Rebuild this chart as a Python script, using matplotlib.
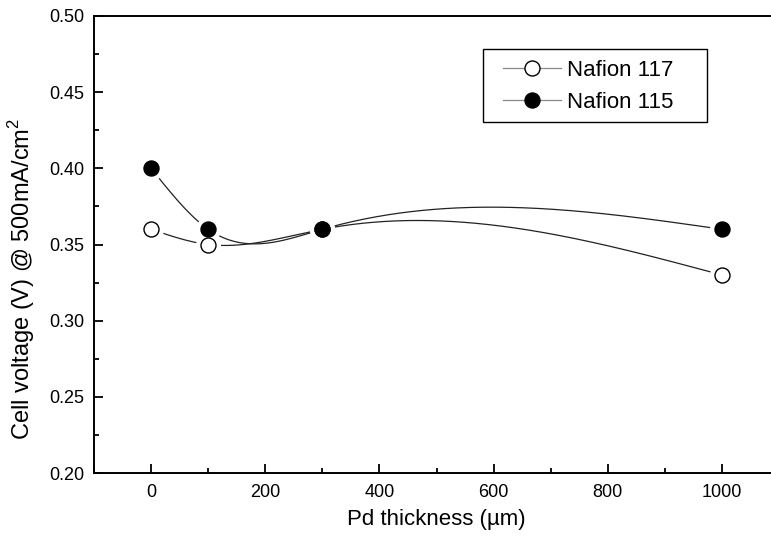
import numpy as np
from matplotlib import pyplot as plt
from matplotlib.ticker import MultipleLocator
from matplotlib.lines import Line2D
from matplotlib.patches import Rectangle

plt.rcParams['font.family'] = ['Liberation Sans', 'DejaVu Sans']
plt.rcParams['mathtext.fontset'] = 'custom'
plt.rcParams['mathtext.rm'] = 'Liberation Sans'

# data
pd_thickness = [0, 100, 300, 1000]
nafion_117 = [0.36, 0.35, 0.36, 0.33]
nafion_115 = [0.40, 0.36, 0.36, 0.36]
labels = ["Nafion 117", "Nafion 115"]


def natural_spline(x, y, n=300):
    # natural cubic spline through the points, like Origin's "spline" connect
    x = np.asarray(x, float)
    y = np.asarray(y, float)
    k = len(x)
    h = np.diff(x)
    A = np.zeros((k, k))
    b = np.zeros(k)
    A[0, 0] = A[-1, -1] = 1.0
    for i in range(1, k - 1):
        A[i, i - 1] = h[i - 1]
        A[i, i] = 2 * (h[i - 1] + h[i])
        A[i, i + 1] = h[i]
        b[i] = 6 * ((y[i + 1] - y[i]) / h[i] - (y[i] - y[i - 1]) / h[i - 1])
    m = np.linalg.solve(A, b)
    xs = np.linspace(x[0], x[-1], n)
    idx = np.clip(np.searchsorted(x, xs) - 1, 0, k - 2)
    x0, x1 = x[idx], x[idx + 1]
    hi = x1 - x0
    ys = (m[idx] * (x1 - xs) ** 3 / (6 * hi) + m[idx + 1] * (xs - x0) ** 3 / (6 * hi)
          + (y[idx] / hi - m[idx] * hi / 6) * (x1 - xs)
          + (y[idx + 1] / hi - m[idx + 1] * hi / 6) * (xs - x0))
    return xs, ys


W, H = 771, 537
fig = plt.figure(figsize=(W / 100, H / 100), dpi=100)
ax = fig.add_axes([94 / W, (H - 473) / H, (779 - 94) / W, (473 - 16) / H])

line_col = '#222222'
for yv in (nafion_117, nafion_115):
    xs, ys = natural_spline(pd_thickness, yv)
    ax.plot(xs, ys, color=line_col, lw=0.9, zorder=2)
for yv in (nafion_117, nafion_115):
    ax.plot(pd_thickness, yv, 'o', ms=17, color='white', mec='white', zorder=3)
ax.plot(pd_thickness, nafion_117, 'o', ms=10.8, mfc='white', mec='black', mew=1.0, zorder=4)
ax.plot(pd_thickness, nafion_115, 'o', ms=10.8, mfc='black', mec='black', mew=1.0, zorder=4)

ax.set_xlim(-100, 1100)
ax.set_ylim(0.20, 0.50)
ax.xaxis.set_major_locator(MultipleLocator(200))
ax.xaxis.set_minor_locator(MultipleLocator(100))
ax.yaxis.set_major_locator(MultipleLocator(0.05))
ax.yaxis.set_minor_locator(MultipleLocator(0.025))
ax.yaxis.set_major_formatter(lambda v, p: f"{v:.2f}")
ax.tick_params(which='both', direction='in', width=1.3, labelsize=13)
ax.tick_params(which='major', length=6.5)
ax.tick_params(which='minor', length=3.5)
ax.tick_params(axis='x', which='major', pad=8)
ax.tick_params(axis='y', which='major', pad=7)
for s in ax.spines.values():
    s.set_linewidth(1.4)

ax.set_xlabel("Pd thickness (\u00b5m)", fontsize=16, labelpad=6)
ax.set_ylabel(r"Cell voltage (V) @ 500mA/cm$^{\mathregular{2}}$", fontsize=17)
ax.yaxis.set_label_coords(-0.083, 0.425)

handles = [
    Line2D([], [], color='#888888', lw=0.9, marker='o', ms=10.8, mfc='white', mec='black'),
    Line2D([], [], color='#888888', lw=0.9, marker='o', ms=10.8, mfc='black', mec='black'),
]
# legend frame drawn separately so the box can be wider than its content
fig.patches.append(Rectangle((483 / W, 1 - 122 / H), (707 - 483) / W, (122 - 49) / H,
                             transform=fig.transFigure, fill=False, edgecolor='black', lw=1.0))
fig.legend(handles, labels, loc='upper left', bbox_to_anchor=(503 / W, 1 - 60 / H),
           borderaxespad=0, borderpad=0, fontsize=16, frameon=False,
           handlelength=2.6, labelspacing=0.5, handletextpad=0.3)

fig.savefig("out.png", dpi=100)
